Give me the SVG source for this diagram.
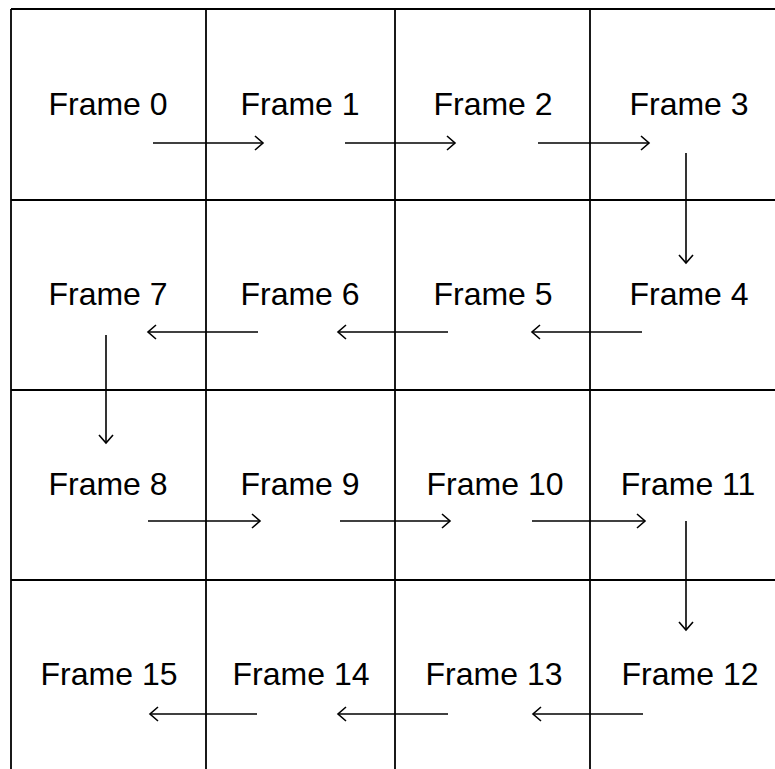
<svg xmlns="http://www.w3.org/2000/svg" width="775" height="769" viewBox="0 0 775 769">
<style>
.grid{stroke:#000;stroke-width:1.8;fill:none}
.lbl{font-family:"Liberation Sans",Arial,sans-serif;font-size:32px;fill:#000;text-anchor:middle}
.conn line{stroke:#000;stroke-width:1.6;marker-end:url(#ah)}
</style>
<defs>
<marker id="ah" markerUnits="userSpaceOnUse" markerWidth="14" markerHeight="18" refX="10" refY="8" orient="auto">
<path d="M2,1 L10,8 L2,15" fill="none" stroke="#000" stroke-width="1.6"/>
</marker>
</defs>
<rect width="775" height="769" fill="#fff"/>
<g id="grid" class="grid">
<line x1="11" y1="9" x2="775" y2="9"/>
<line x1="11" y1="200" x2="775" y2="200"/>
<line x1="11" y1="390" x2="775" y2="390"/>
<line x1="11" y1="580" x2="775" y2="580"/>
<line x1="11" y1="9" x2="11" y2="769"/>
<line x1="206" y1="9" x2="206" y2="769"/>
<line x1="395" y1="9" x2="395" y2="769"/>
<line x1="590" y1="9" x2="590" y2="769"/>
</g>
<g id="frame0"><text class="lbl" x="108" y="115">Frame 0</text></g>
<g id="frame1"><text class="lbl" x="300" y="115">Frame 1</text></g>
<g id="frame2"><text class="lbl" x="493" y="115">Frame 2</text></g>
<g id="frame3"><text class="lbl" x="689" y="115">Frame 3</text></g>
<g id="frame7"><text class="lbl" x="108" y="305">Frame 7</text></g>
<g id="frame6"><text class="lbl" x="300" y="305">Frame 6</text></g>
<g id="frame5"><text class="lbl" x="493" y="305">Frame 5</text></g>
<g id="frame4"><text class="lbl" x="689" y="305">Frame 4</text></g>
<g id="frame8"><text class="lbl" x="108" y="495">Frame 8</text></g>
<g id="frame9"><text class="lbl" x="300" y="495">Frame 9</text></g>
<g id="frame10"><text class="lbl" x="495" y="495">Frame 10</text></g>
<g id="frame11"><text class="lbl" x="688" y="495">Frame 11</text></g>
<g id="frame15"><text class="lbl" x="109" y="685">Frame 15</text></g>
<g id="frame14"><text class="lbl" x="301" y="685">Frame 14</text></g>
<g id="frame13"><text class="lbl" x="494" y="685">Frame 13</text></g>
<g id="frame12"><text class="lbl" x="690" y="685">Frame 12</text></g>
<g id="connectors" class="conn">
<line x1="153" y1="143" x2="263" y2="143"/>
<line x1="345" y1="143" x2="455" y2="143"/>
<line x1="538" y1="143" x2="649" y2="143"/>
<line x1="686" y1="153" x2="686" y2="263"/>
<line x1="642" y1="332" x2="532" y2="332"/>
<line x1="448" y1="332" x2="338" y2="332"/>
<line x1="258" y1="332" x2="148" y2="332"/>
<line x1="106" y1="335" x2="106" y2="443"/>
<line x1="148" y1="521" x2="260" y2="521"/>
<line x1="340" y1="521" x2="450" y2="521"/>
<line x1="532" y1="521" x2="645" y2="521"/>
<line x1="686" y1="521" x2="686" y2="630"/>
<line x1="643" y1="714" x2="533" y2="714"/>
<line x1="448" y1="714" x2="338" y2="714"/>
<line x1="257" y1="714" x2="150" y2="714"/>
</g>
</svg>
